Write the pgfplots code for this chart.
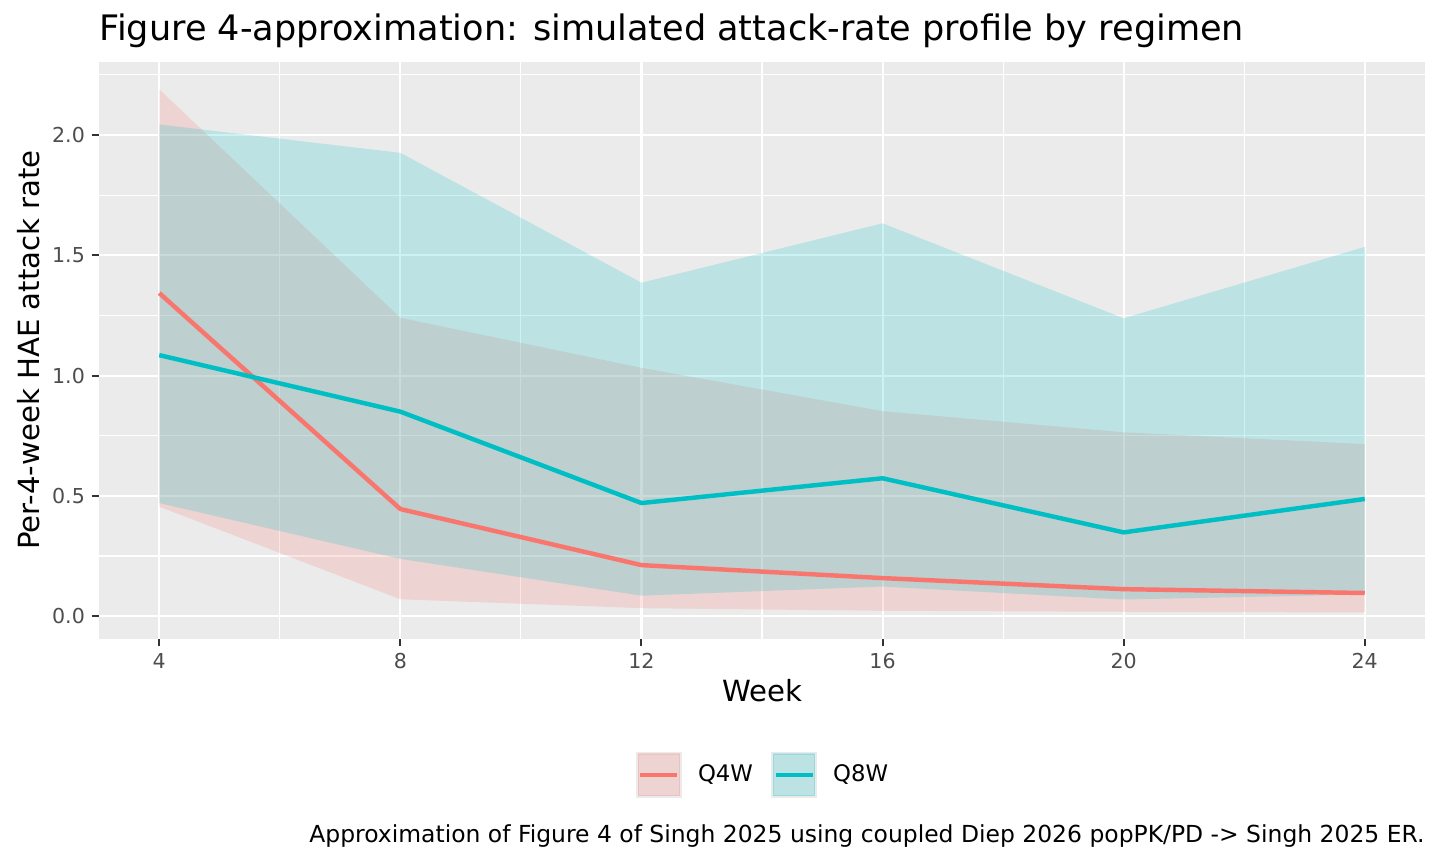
\documentclass[border=0pt]{standalone}
\usepackage{fontspec}
\setmainfont{DejaVu Sans}
\usepackage{pgfplots}
\pgfplotsset{compat=1.18}

\definecolor{q4w}{HTML}{F8766D}
\definecolor{q8w}{HTML}{00BFC4}
\definecolor{panel}{HTML}{EBEBEB}
\definecolor{ticklab}{HTML}{4D4D4D}
\definecolor{tickcol}{HTML}{333333}

\begin{document}
\begin{tikzpicture}
\begin{axis}[
  at={(35.64pt,81.11pt)}, anchor=south west,
  scale only axis, width=477.36pt, height=207.72pt,
  xmin=3, xmax=25, ymin=-0.094, ymax=2.305,
  axis background/.style={fill=panel},
  axis line style={draw=none},
  xtick={4,8,...,24}, ytick={0,0.5,...,2},
  minor xtick={6,10,...,22}, minor ytick={0.25,0.75,...,2.25},
  grid=both,
  major grid style={white, line width=0.75pt},
  minor grid style={white, line width=0.4pt},
  xtick pos=left, ytick pos=left,
  tick align=outside, major tick length=2.7pt, minor tick length=0pt,
  tick style={tickcol, line width=0.72pt},
  /pgf/number format/assume math mode=true,
  ticklabel style={font=\fontsize{7.4}{8}\selectfont, text=ticklab, inner sep=0pt},
  yticklabel style={/pgf/number format/fixed, /pgf/number format/fixed zerofill, /pgf/number format/precision=1},
  xticklabel shift=2.3pt, yticklabel shift=2.2pt,
  legend style={at={(0.5,-0.236)}, anchor=center,
    draw=none, fill=none, inner sep=0pt, outer sep=0pt,
    font=\fontsize{8.2}{9}\selectfont,
    nodes={inner sep=0pt},
    /tikz/every odd column/.append style={column sep=5.76pt},
    /tikz/every even column/.append style={column sep=6.5pt}},
  legend columns=2, legend cell align=left,
]
% Q4W ribbon: upper bound left to right, then lower bound right to left
\addplot[fill=q4w, fill opacity=0.2, draw=none, forget plot] coordinates {
  (4,2.190) (8,1.240) (12,1.032) (16,0.852) (20,0.764) (24,0.715)
  (24,0.015) (20,0.018) (16,0.022) (12,0.033) (8,0.070) (4,0.455)};
% Q8W ribbon
\addplot[fill=q8w, fill opacity=0.2, draw=none, forget plot] coordinates {
  (4,2.044) (8,1.926) (12,1.386) (16,1.633) (20,1.238) (24,1.535)
  (24,0.090) (20,0.069) (16,0.123) (12,0.085) (8,0.238) (4,0.470)};
% median lines
\addplot[q4w, line width=1.6pt, line join=round, forget plot] coordinates {
  (4,1.343) (8,0.445) (12,0.212) (16,0.158) (20,0.112) (24,0.096)};
\addplot[q8w, line width=1.6pt, line join=round, forget plot] coordinates {
  (4,1.085) (8,0.850) (12,0.470) (16,0.573) (20,0.348) (24,0.487)};

\addlegendimage{legend image code/.code={
  \fill[panel] (0pt,-8.1pt) rectangle (16.2pt,8.1pt);
  \fill[q4w, opacity=0.2] (0.6pt,-7.5pt) rectangle (15.6pt,7.5pt);
  \draw[q4w, line width=1.6pt] (1.44pt,0pt) -- (14.76pt,0pt);}}
\addlegendentry{Q4W}
\addlegendimage{legend image code/.code={
  \fill[panel] (0pt,-8.1pt) rectangle (16.2pt,8.1pt);
  \fill[q8w, opacity=0.2] (0.6pt,-7.5pt) rectangle (15.6pt,7.5pt);
  \draw[q8w, line width=1.6pt] (1.44pt,0pt) -- (14.76pt,0pt);}}
\addlegendentry{Q8W}
\end{axis}
\node[anchor=base west, inner sep=0pt, font=\fontsize{12.63}{14}\selectfont] at (35.64pt,296.35pt) {Figure 4-approximation: simulated attack-rate profile by regimen};
\node[anchor=base, inner sep=0pt, font=\fontsize{10.5}{12}\selectfont] at (274.32pt,58.43pt) {Week};
\node[anchor=base, rotate=90, inner sep=0pt, font=\fontsize{10.5}{12}\selectfont] at (14.4pt,185.04pt) {Per-4-week HAE attack rate};
\node[anchor=base east, inner sep=0pt, font=\fontsize{8.44}{10}\selectfont] at (513pt,7.81pt) {Approximation of Figure 4 of Singh 2025 using coupled Diep 2026 popPK/PD -> Singh 2025 ER.};
\useasboundingbox (0,0) rectangle (518.4pt,311.04pt);
\end{tikzpicture}
\end{document}
